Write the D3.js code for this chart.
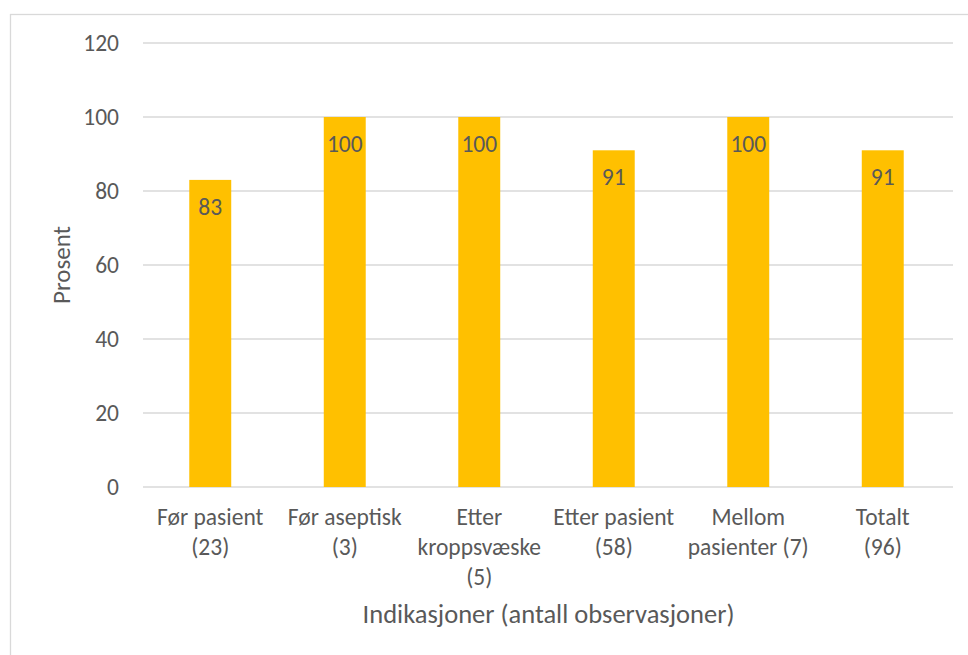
<!DOCTYPE html>
<html>
<head>
<meta charset="utf-8">
<script src="https://cdn.jsdelivr.net/npm/d3@7"></script>
<style>
  html, body { margin: 0; padding: 0; background: #fff; }
  svg { display: block; }
  text { font-family: Carlito, Lato, "Open Sans", sans-serif; fill: #595959; }
</style>
</head>
<body>
<svg id="chart" width="968" height="655"></svg>
<script>
// Andel etterlevelse per indikasjon (prosent)
const categories = [
  ["Før pasient", "(23)"],
  ["Før aseptisk", "(3)"],
  ["Etter", "kroppsvæske", "(5)"],
  ["Etter pasient", "(58)"],
  ["Mellom", "pasienter (7)"],
  ["Totalt", "(96)"]
];
const values = [83, 100, 100, 91, 100, 91];
const yTicks = [0, 20, 40, 60, 80, 100, 120];
const yTitle = "Prosent";
const xTitle = "Indikasjoner (antall observasjoner)";

const svg = d3.select("#chart");
const W = 968, H = 655;
const plot = { left: 143, right: 950, top: 43, bottom: 487 };

// chart frame
svg.append("rect")
  .attr("x", 10.5).attr("y", 14.5)
  .attr("width", W + 10).attr("height", H + 10)
  .attr("fill", "none").attr("stroke", "#d9d9d9").attr("stroke-width", 1.3);

const keys = categories.map(c => c.join(" "));
const x = d3.scaleBand()
  .domain(keys)
  .range([plot.left, plot.right])
  .paddingInner(0.688)
  .paddingOuter(0.344);

const y = d3.scaleLinear().domain([0, 120]).range([plot.bottom, plot.top]);

// gridlines
svg.append("g")
  .selectAll("line")
  .data(yTicks)
  .join("line")
  .attr("x1", plot.left).attr("x2", plot.right + 3)
  .attr("y1", d => y(d)).attr("y2", d => y(d))
  .attr("stroke", "#d9d9d9").attr("stroke-width", 1.3);

// y tick labels
const yAxis = d3.axisLeft(y).tickValues(yTicks).tickSize(0).tickPadding(0);
const gy = svg.append("g").attr("transform", `translate(119,0)`).call(yAxis);
gy.select(".domain").remove();
gy.selectAll("text")
  .attr("font-size", 23.5)
  .attr("fill", "#595959")
  .style("font-family", "Carlito, Lato, sans-serif");

// bars
svg.append("g")
  .selectAll("rect")
  .data(values)
  .join("rect")
  .attr("x", (d, i) => x(keys[i]))
  .attr("width", x.bandwidth())
  .attr("y", d => y(d))
  .attr("height", d => y(0) - y(d))
  .attr("fill", "#ffc000");

// value labels inside bar tops
svg.append("g")
  .selectAll("text")
  .data(values)
  .join("text")
  .attr("x", (d, i) => x(keys[i]) + x.bandwidth() / 2)
  .attr("y", d => y(d) + 35)
  .attr("text-anchor", "middle")
  .attr("font-size", 23.5)
  .attr("fill", "#404040")
  .text(d => d);

// category labels
const cat = svg.append("g")
  .selectAll("text")
  .data(categories)
  .join("text")
  .attr("text-anchor", "middle")
  .attr("font-size", 23.5);
cat.each(function(lines, i) {
  const cx = x(keys[i]) + x.bandwidth() / 2;
  d3.select(this).selectAll("tspan")
    .data(lines)
    .join("tspan")
    .attr("x", cx)
    .attr("y", (l, j) => 525 + j * 30)
    .text(l => l);
});

// axis titles
svg.append("text")
  .attr("x", (plot.left + plot.right) / 2 + 2)
  .attr("y", 623)
  .attr("text-anchor", "middle")
  .attr("font-size", 26.5)
  .text(xTitle);

svg.append("text")
  .attr("transform", `translate(70,${(plot.top + plot.bottom) / 2}) rotate(-90)`)
  .attr("text-anchor", "middle")
  .attr("font-size", 25)
  .text(yTitle);
</script>
</body>
</html>
